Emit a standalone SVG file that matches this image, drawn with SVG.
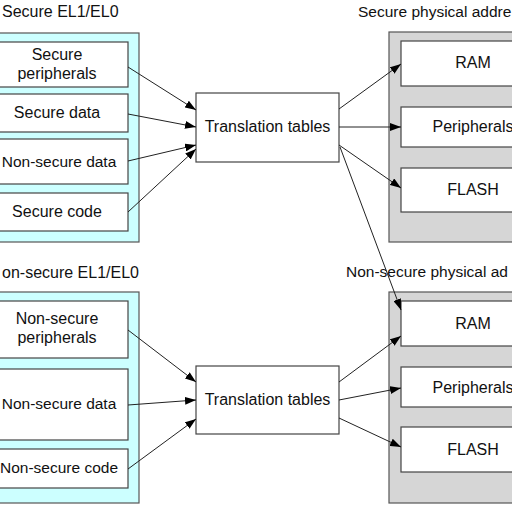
<svg xmlns="http://www.w3.org/2000/svg" width="512" height="512" viewBox="0 0 512 512">
<style>
text{font-family:"Liberation Sans",Arial,sans-serif;font-size:16px;fill:#111}
.c{text-anchor:middle}
.n{font-size:15.5px}
.vpanel{fill:#ccffff;stroke:#555;stroke-width:1.2}
.ppanel{fill:#d6d6d6;stroke:#555;stroke-width:1.2}
.box{fill:#fff;stroke:#444;stroke-width:1.2}
.conn line{stroke:#222;stroke-width:1;marker-end:url(#ah)}
</style>
<defs>
<marker id="ah" viewBox="0 0 11 8" refX="11" refY="4" markerWidth="11" markerHeight="8" markerUnits="userSpaceOnUse" orient="auto">
<path d="M0,0 L11,4 L0,8 z" fill="#000"/>
</marker>
</defs>
<rect width="512" height="512" fill="#fff"/>

<g id="secure-el">
<text x="2" y="17">Secure EL1/EL0</text>
<rect class="vpanel" x="-25" y="33" width="164" height="209"/>
</g>
<g id="secure-peripherals"><rect class="box" x="-14" y="42" width="142" height="45"/><text class="c" x="57" y="60">Secure</text><text class="c" x="57" y="79">peripherals</text></g>
<g id="secure-data"><rect class="box" x="-14" y="94" width="142" height="38"/><text class="c" x="57" y="118">Secure data</text></g>
<g id="secure-nsdata"><rect class="box" x="-14" y="139" width="142" height="45"/><text class="c n" x="59" y="167">Non-secure data</text></g>
<g id="secure-code"><rect class="box" x="-14" y="193" width="142" height="38"/><text class="c" x="57" y="217">Secure code</text></g>

<g id="nonsecure-el">
<text x="2" y="278">on-secure EL1/EL0</text>
<rect class="vpanel" x="-25" y="292" width="164" height="211"/>
</g>
<g id="ns-peripherals"><rect class="box" x="-14" y="301" width="142" height="57"/><text class="c" x="57" y="324">Non-secure</text><text class="c" x="57" y="343">peripherals</text></g>
<g id="ns-data"><rect class="box" x="-14" y="369" width="142" height="71"/><text class="c n" x="59" y="409">Non-secure data</text></g>
<g id="ns-code"><rect class="box" x="-14" y="449" width="142" height="39"/><text class="c n" x="59" y="473">Non-secure code</text></g>

<g id="tt-secure"><rect class="box" x="196" y="93" width="143" height="69"/><text class="c" x="267.5" y="132">Translation tables</text></g>
<g id="tt-nonsecure"><rect class="box" x="196" y="366" width="143" height="68"/><text class="c" x="267.5" y="405">Translation tables</text></g>

<g id="secure-pa">
<text class="n" x="358" y="17">Secure physical addre</text>
<rect class="ppanel" x="389" y="32" width="140" height="210"/>
</g>
<g id="s-ram"><rect class="box" x="401" y="41" width="144" height="45"/><text class="c" x="473" y="68">RAM</text></g>
<g id="s-periph"><rect class="box" x="401" y="107" width="144" height="40"/><text class="c" x="473" y="132">Peripherals</text></g>
<g id="s-flash"><rect class="box" x="401" y="168" width="144" height="44"/><text class="c" x="473" y="195">FLASH</text></g>

<g id="nonsecure-pa">
<text class="n" x="346" y="277">Non-secure physical ad</text>
<rect class="ppanel" x="389" y="292" width="140" height="211"/>
</g>
<g id="ns-ram"><rect class="box" x="401" y="301" width="144" height="45"/><text class="c" x="473" y="329">RAM</text></g>
<g id="ns-periph"><rect class="box" x="401" y="367" width="144" height="40"/><text class="c" x="473" y="393">Peripherals</text></g>
<g id="ns-flash"><rect class="box" x="401" y="427" width="144" height="45"/><text class="c" x="473" y="455">FLASH</text></g>

<g id="connectors" class="conn">
<line x1="128" y1="67" x2="196" y2="110"/>
<line x1="128" y1="114" x2="196" y2="127"/>
<line x1="128" y1="161" x2="196" y2="145"/>
<line x1="128" y1="212" x2="196" y2="149"/>
<line x1="339" y1="109" x2="401" y2="64"/>
<line x1="339" y1="127" x2="401" y2="127"/>
<line x1="339" y1="145" x2="401" y2="188"/>
<line x1="340" y1="147" x2="401" y2="310"/>
<line x1="128" y1="330" x2="196" y2="382"/>
<line x1="128" y1="405" x2="196" y2="400"/>
<line x1="128" y1="469" x2="196" y2="419"/>
<line x1="339" y1="382" x2="401" y2="336"/>
<line x1="339" y1="400" x2="401" y2="388"/>
<line x1="339" y1="418" x2="401" y2="447"/>
</g>
</svg>
